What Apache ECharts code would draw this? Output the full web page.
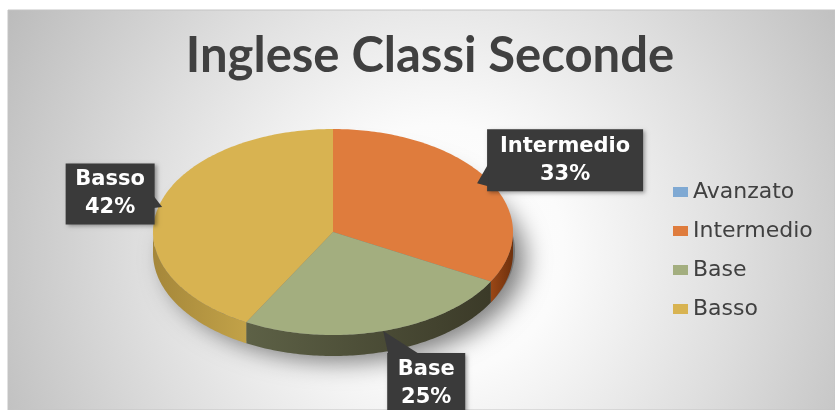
<!DOCTYPE html>
<html>
<head>
<meta charset="utf-8">
<style>
  html, body { margin: 0; padding: 0; background: #fff; }
  #main { width: 835px; height: 410px; }
</style>
<script src="https://cdn.jsdelivr.net/npm/echarts@6/dist/echarts.min.js"></script>
</head>
<body>
<div id="main"></div>
<script>
// dati
var categories = ['Avanzato', 'Intermedio', 'Base', 'Basso'];
var values = [0, 33, 25, 42];
var colors = ['#7FA9D3', '#DF7C3D', '#A3AE7F', '#D8B351'];
// colori del bordo 3D (sinistra -> destra)
var sideColors = [
  ['#5a7fa6', '#3f5f82'],
  ['#9a4716', '#6e300c'],
  ['#5d6146', '#3b3a28'],
  ['#a5873a', '#c2a248']
];

// geometria della torta in prospettiva
var cx = 333, cy = 232, rx = 180, ry = 103, depth = 21;

var total = values.reduce(function (a, b) { return a + b; }, 0);
var angles = [-Math.PI / 2];
values.forEach(function (v, i) {
  angles.push(angles[i] + v / total * Math.PI * 2);
});

// callout delle etichette
var callouts = {
  Intermedio: { f: 0.93, dx: 88, dy: -23, w: 156, h: 62, edge: 'left', span: [4, 26] },
  Base: { f: 1, dx: 43, dy: 53, w: 78, h: 62, edge: 'top', span: [-38, -7] },
  Basso: { f: 0.98, dx: -52, dy: -13, w: 89, h: 61, edge: 'right', span: [2, 14] }
};

function pt(a, dy, f) {
  f = f || 1;
  return [cx + rx * f * Math.cos(a), cy + ry * f * Math.sin(a) + (dy || 0)];
}

function arc(a0, a1, dy) {
  var pts = [];
  var n = Math.max(2, Math.ceil((a1 - a0) * 60));
  for (var k = 0; k <= n; k++) {
    pts.push(pt(a0 + (a1 - a0) * k / n, dy));
  }
  return pts;
}

function renderPie(params, api) {
  var i = params.dataIndex;
  var a0 = angles[i], a1 = angles[i + 1];
  if (a1 - a0 < 1e-6) return;
  var children = [];
  // fianco visibile (metà anteriore)
  var s0 = Math.max(a0, 0), s1 = Math.min(a1, Math.PI);
  if (s1 > s0) {
    var top = arc(s0, s1, 0);
    var bottom = arc(s0, s1, depth).reverse();
    children.push({
      type: 'polygon',
      shape: { points: top.concat(bottom) },
      style: {
        fill: new echarts.graphic.LinearGradient(0, 0, 1, 0, [
          { offset: 0, color: sideColors[i][0] },
          { offset: 1, color: sideColors[i][1] }
        ])
      }
    });
  }
  // faccia superiore
  children.push({
    type: 'polygon',
    shape: { points: [[cx, cy]].concat(arc(a0, a1, 0)) },
    style: { fill: colors[i] }
  });
  return { type: 'group', children: children };
}

function renderLabel(params, api) {
  var i = params.dataIndex;
  var c = callouts[categories[i]];
  if (!c || values[i] === 0) return;
  var mid = (angles[i] + angles[i + 1]) / 2;
  var tip = pt(mid, 0, c.f);
  var bx = tip[0] + c.dx, by = tip[1] + c.dy;
  var l = bx - c.w / 2, r = bx + c.w / 2, t = by - c.h / 2;
  var base;
  if (c.edge === 'left') base = [[l + 1, by + c.span[0]], [l + 1, by + c.span[1]]];
  else if (c.edge === 'right') base = [[r - 1, by + c.span[0]], [r - 1, by + c.span[1]]];
  else base = [[bx + c.span[0], t + 1], [bx + c.span[1], t + 1]];
  var pct = Math.round(values[i] / total * 100) + '%';
  return {
    type: 'group',
    children: [
      {
        type: 'rect',
        shape: { x: l, y: t, width: c.w, height: c.h },
        style: { fill: '#3a3a3a', shadowBlur: 4, shadowOffsetX: 2, shadowOffsetY: 2, shadowColor: 'rgba(0,0,0,0.35)' }
      },
      {
        type: 'polygon',
        shape: { points: [tip, base[0], base[1]] },
        style: { fill: '#3a3a3a' }
      },
      {
        type: 'text',
        x: bx, y: by,
        style: {
          text: categories[i] + '\n' + pct,
          fill: '#ffffff',
          font: 'bold 21px "DejaVu Sans"',
          align: 'center',
          verticalAlign: 'middle',
          lineHeight: 28
        }
      }
    ]
  };
}

var chart = echarts.init(document.getElementById('main'));

var shadowPts = [];
for (var k = 0; k <= 120; k++) {
  var a = k / 120 * Math.PI * 2;
  shadowPts.push([cx + 2 + rx * Math.cos(a), cy + depth - 2 + ry * Math.sin(a)]);
}

chart.setOption({
  animation: false,
  title: {
    text: 'Inglese Classi Seconde',
    left: 425,
    textAlign: 'center',
    top: 27,
    textStyle: { fontFamily: 'Lato', fontWeight: 'bold', fontSize: 49, color: '#404040' }
  },
  legend: {
    orient: 'vertical',
    left: 668,
    top: 176,
    itemWidth: 15,
    itemHeight: 10,
    itemGap: 17,
    icon: 'rect',
    textStyle: { fontFamily: 'DejaVu Sans', fontSize: 22, color: '#404040' },
    data: categories
  },
  graphic: [
    {
      type: 'rect', z: -10,
      shape: { x: 8, y: 10, width: 827, height: 400 },
      style: {
        fill: new echarts.graphic.RadialGradient(0.52, 0.6, 1.25, [
          { offset: 0, color: '#ffffff' },
          { offset: 0.25, color: '#fbfbfb' },
          { offset: 0.6, color: '#dedede' },
          { offset: 1, color: '#bababa' }
        ]),
        stroke: '#c4c4c4', lineWidth: 1
      }
    },
    {
      type: 'polygon', z: -5,
      shape: { points: shadowPts },
      style: { fill: '#777', shadowBlur: 24, shadowOffsetX: 10, shadowOffsetY: 8, shadowColor: 'rgba(0,0,0,0.5)' }
    }
  ],
  series: [
    {
      type: 'pie',
      name: 'legenda',
      radius: 0,
      center: [cx, cy],
      silent: true,
      label: { show: false },
      labelLine: { show: false },
      data: categories.map(function (n, i) {
        return { name: n, value: values[i], itemStyle: { color: colors[i] } };
      })
    },
    {
      type: 'custom',
      name: 'torta',
      coordinateSystem: 'none',
      silent: true,
      renderItem: renderPie,
      data: values
    },
    {
      type: 'custom',
      name: 'etichette',
      coordinateSystem: 'none',
      silent: true,
      z: 10,
      renderItem: renderLabel,
      data: values
    }
  ]
});
</script>
</body>
</html>
